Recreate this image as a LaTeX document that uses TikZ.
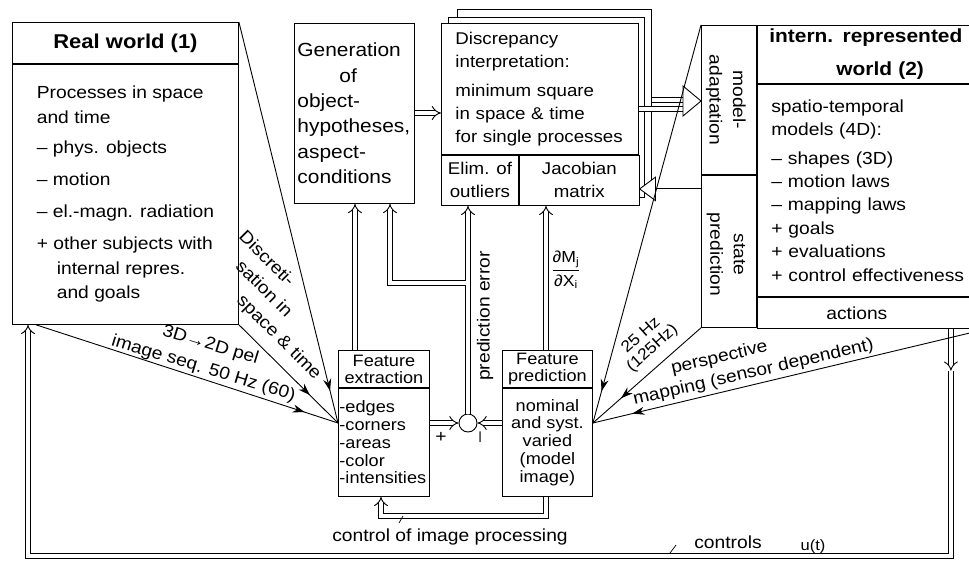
\documentclass[tikz,border=0pt]{standalone}
\usepackage{fontspec}
\setmainfont{Liberation Sans}[FakeStretch=1.1]
\usetikzlibrary{arrows.meta,decorations.markings}

\begin{document}
\begin{tikzpicture}[x=1pt, y=-1pt, line width=0.9pt,
  box/.style={draw, fill=white, inner sep=0pt, anchor=north west},
  head/.style={font=\fontsize{20}{27}\selectfont\bfseries},
  txt/.style={font=\fontsize{17.5}{23.4}\selectfont},
  feat/.style={font=\fontsize{16.5}{17.8}\selectfont},
  lbl/.style={txt, inner sep=0pt},
  dbl/.style={double, double distance=4pt, -{Implies[scale=1.3]}},
  tipat/.style={postaction={decorate}, decoration={markings, mark=at position #1 with {\arrow{Stealth[length=12pt,width=8pt]}}}}]
\useasboundingbox (0,0) rectangle (969,562);
\clip (0,0) rectangle (969,562);

\node[box, head, minimum width=226pt, minimum height=41pt] (realwt) at (12,22) {Real world (1)};
\node[box, minimum width=226pt, minimum height=260pt, align=left, font=\fontsize{17.5}{25}\selectfont] (realwb) at (realwt.south west) {Processes in space\\ and time\\[5pt] – phys. objects\\[7pt] – motion\\[7pt] – el.-magn. radiation\\[7pt] + other subjects with\\ \hspace*{20pt}internal repres.\\[-1pt] \hspace*{20pt}and goals};

\node[box, minimum height=180pt, text width=114pt, inner xsep=3pt, align=left, font=\fontsize{19}{25.4}\selectfont] (gen) at (294,23) {Generation\\ \hspace*{42pt}of\\ object-\\ hypotheses,\\ aspect-\\ conditions};

\node[box, minimum width=194pt, minimum height=181pt] (disc2) at (457,9) {};
\node[box, minimum width=196pt, minimum height=180pt] (disc1) at (448,17) {};
\node[box, minimum height=131pt, text width=169pt, inner xsep=14pt, align=left, font=\fontsize{17}{23}\selectfont] (disc) at (441,23) {Discrepancy\\ interpretation:\\[6pt] minimum square\\ in space \& time\\ for single processes};
\node[box, minimum width=77pt, minimum height=50pt, align=center, font=\fontsize{17}{23}\selectfont] (elim) at (disc.south west) {Elim. of\\outliers};
\node[box, minimum width=120pt, minimum height=50pt, align=center, font=\fontsize{17}{23}\selectfont] (jacob) at (elim.north east) {Jacobian\\matrix};

\node[box, minimum width=55pt, minimum height=149pt] (madapt) at (701,25) {};
\node[box, minimum width=55pt, minimum height=152pt] (spred) at (madapt.south west) {};
\node[lbl, rotate=-90, align=center] (madaptl) at ([xshift=-3pt]madapt.center) {model-\\adaptation};
\node[lbl, rotate=-90, align=center] (spredl) at ([xshift=-3pt,yshift=-3pt]spred.center) {state\\prediction};

\node[box, minimum width=230pt, minimum height=58pt, text width=206pt, inner xsep=12pt, align=left, font=\fontsize{19}{27}\selectfont\bfseries] (irwt) at (madapt.north east) {intern. represented\\[6pt] \hspace*{67pt}world (2)};
\node[box, txt, minimum height=212pt, text width=202pt, inner xsep=14pt, align=left] (irwb) at (irwt.south west) {spatio-temporal\\ models (4D):\\[5pt] – shapes (3D)\\ – motion laws\\ – mapping laws\\ + goals\\ + evaluations\\ + control effectiveness};
\node[box, txt, minimum height=31pt, text width=202pt, inner xsep=14pt, align=left] (actions) at (irwb.south west) {\hspace*{55pt}actions};

\node[box, feat, minimum width=91pt, minimum height=37pt, align=center] (fextt) at (338,350) {Feature\\[-0.8pt]extraction};
\node[box, feat, minimum height=108pt, text width=89pt, inner xsep=1pt, align=left] (fextb) at (fextt.south west) {-edges\\-corners\\-areas\\-color\\-intensities};
\node[box, feat, minimum width=90pt, minimum height=37pt, align=center] (fpredt) at (502,350) {Feature\\[-0.8pt]prediction};
\node[box, feat, minimum width=90pt, minimum height=108pt, align=center] (fpredb) at (fpredt.south west) {nominal\\and syst.\\varied\\(model\\image)};
\node[circle, draw, fill=white, minimum size=18pt, inner sep=0pt] (sum) at (468,423) {};

\draw[dbl] ([xshift=17pt]fextt.north west) -- ([xshift=17pt]fextt.north west |- gen.south);
\draw[dbl] (sum.north) -- (sum.north |- elim.south);
\coordinate (perrj) at (466,283);
\draw[dbl] (perrj) -| ([xshift=96pt]gen.south west);
\draw[dbl] ([xshift=44pt]fpredt.north west) -- ([xshift=44pt]fpredt.north west |- jacob.south);
\draw[dbl] (fextb.east |- sum) -- (sum.west);
\draw[dbl] (fpredb.west |- sum) -- (sum.east);
\draw[dbl] ([yshift=-90pt]gen.north east) -- ([yshift=-90pt]gen.north east -| disc.west);
\draw[dbl] ([xshift=44pt]fpredb.south west) -- ++(0,19) -| ([xshift=43pt]fextb.south west);
\coordinate (ctrl) at ([xshift=194pt,yshift=-42pt]actions.south west);
\draw[dbl] ([xshift=194pt]actions.south west) -- (ctrl);
\draw[dbl] (ctrl) -- ++(0,185) -| ([xshift=16pt]realwb.south west);

\coordinate (ahbase) at (683,101);
\coordinate (ahtip) at (madapt.west |- ahbase);
\draw[double, double distance=4pt] (disc2.east) -- (disc2.east -| ahbase);
\draw[double, double distance=4pt] ([yshift=-20pt]disc.east) -- ([yshift=-20pt]disc.east -| ahbase);
\draw[fill=white] ([yshift=15pt]ahbase) -- (ahtip) -- ([yshift=-15pt]ahbase) -- cycle;
\coordinate (sp1) at ([yshift=-14pt]spred.north west);
\draw[-{Triangle[length=17pt,width=25pt,fill=white]}] (sp1) -- (sp1 -| disc.east);

\coordinate (fin) at (fextb.west |- sum);
\coordinate (fpin) at (fpredb.east |- sum);
\draw[tipat=0.89] ([xshift=24pt]realwb.south west) -- (fin);
\draw[tipat=0.92] (realwt.north east) -- (fin);
\draw[tipat=0.72] (realwb.south east) -- (fin);
\draw[tipat=0.92] (madapt.north west) -- (fpin);
\draw[tipat=0.74] (spred.south west) -- (fpin);
\draw[tipat=0.9] (actions.south east) -- (fpin);

\node[lbl, rotate=-17, align=center, font=\fontsize{17.5}{24.5}\selectfont] (imglbl) at (207,357) {3D→2D pel\\image seq. 50 Hz (60)};
\node[lbl, rotate=-45, anchor=north west, align=left] (dsclbl) at (247,228) {Discreti-\\ \hspace*{19pt}sation in\\ \hspace*{44pt}space \& time};
\node[lbl, rotate=90] (perrl) at (485,316) {prediction error};
\node[lbl, font=\fontsize{16}{16}\selectfont] (jlbl) at (566,270) {$\displaystyle\frac{\mbox{∂M}_{\mbox{\fontsize{11}{11}\selectfont j}}}{\mbox{∂X}_{\mbox{\fontsize{11}{11}\selectfont i}}}$};
\node[lbl, rotate=42, align=center, font=\fontsize{16}{17}\selectfont] (hzlbl) at (647,342) {25 Hz\\(125Hz)};
\node[lbl, rotate=13, align=left, font=\fontsize{17.5}{22}\selectfont] (psplbl) at (751,362) {\hspace*{44pt}perspective\\mapping (sensor dependent)};
\node[lbl] (plus) at (441,437) {+};
\node[lbl, rotate=90] (minus) at (482,437) {–};
\node[lbl] (ciplbl) at (450,537) {control of image processing};
\node[lbl] (ctrlbl) at (728,542) {controls};
\node[lbl, font=\fontsize{15}{15}\selectfont] (utlbl) at (813,547) {u(t)};
\coordinate (cipk) at (403,516);
\draw[line width=0.7pt] (cipk) -- ++(-4,7);
\coordinate (ctrk) at (676,545);
\draw[line width=0.7pt] (ctrk) -- ++(-6,8);
\end{tikzpicture}
\end{document}
